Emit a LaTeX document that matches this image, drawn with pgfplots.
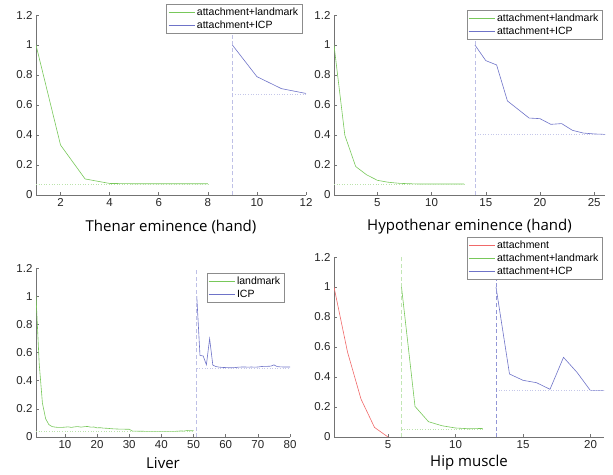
\documentclass[border=0pt]{standalone}
\usepackage{fontspec}
\setmainfont{Liberation Sans}
\newfontfamily\labelfont{Open Sans}
\usepackage{pgfplots}
\pgfplotsset{compat=1.18}

\definecolor{mgreen}{RGB}{120,200,90}
\definecolor{mblue}{RGB}{110,115,200}
\definecolor{mred}{RGB}{240,105,105}

\pgfplotsset{
  mat/.style={
    scale only axis,
    axis x line*=bottom, axis y line*=left,
    axis line style={black!55, line width=0.5pt},
    tick style={black!55, line width=0.5pt},
    tick align=inside, major tick length=3pt,
    ymin=0, ymax=1.2,
    ytick={0,0.2,0.4,0.6,0.8,1,1.2},
    yticklabels={0,0.2,0.4,0.6,0.8,1,1.2},
    tick label style={font=\fontsize{11.5}{12}\selectfont, text=black!85},
    /pgf/number format/assume math mode=true,
    xlabel style={font=\labelfont\fontsize{15}{16}\selectfont, text=black,
      at={(axis description cs:0.5,0)}, anchor=center},
    legend style={draw=black!45, fill=white, anchor=north east,
      font=\fontsize{10.5}{12}\selectfont, inner sep=1.5pt, row sep=0pt,
      cells={anchor=west}},
    legend image code/.code={\draw[line width=0.8pt,#1] (0pt,0pt) -- (26pt,0pt);},
    every axis plot/.append style={line width=0.6pt},
  },
  ref/.style={dotted, line width=0.4pt, forget plot},
  vert/.style={dash pattern=on 4pt off 2.5pt, line width=0.8pt, forget plot},
}

\begin{document}
\begin{tikzpicture}[x=1pt,y=1pt]
\path (0,0) rectangle (613,474);

% Thenar eminence
\begin{axis}[mat, at={(36pt,279pt)}, anchor=south west, width=270pt, height=180pt,
  xmin=1, xmax=12, xtick={2,4,...,12},
  xlabel={Thenar eminence (hand)}, xlabel style={yshift=-32pt},
  legend style={at={(0.985,1.061)}}]
\addplot[mgreen] coordinates {(1,1.0) (2,0.333) (3,0.107) (4,0.077) (5,0.075) (6,0.075) (7,0.075) (8,0.075)};
\addlegendentry{attachment+landmark}
\addplot[mblue] coordinates {(9,1.0) (10,0.789) (11,0.709) (12,0.677)};
\addlegendentry{attachment+ICP}
\addplot[ref, mgreen!50] coordinates {(1,0.075) (8,0.075)};
\addplot[ref, mblue!40] coordinates {(9,0.675) (12,0.675)};
\addplot[vert, mblue!45] coordinates {(9,0) (9,1.2)};
\end{axis}

% Hypothenar eminence
\begin{axis}[mat, at={(334pt,279pt)}, anchor=south west, width=271pt, height=180pt,
  xmin=1, xmax=26, xtick={5,10,...,25},
  xlabel={Hypothenar eminence (hand)}, xlabel style={yshift=-32pt},
  legend style={at={(0.989,1.028)}}]
\addplot[mgreen] coordinates {(1,1.0) (2,0.398) (3,0.19) (4,0.135) (5,0.098) (6,0.085)
  (7,0.078) (8,0.075) (9,0.073) (10,0.073) (11,0.073) (12,0.073) (13,0.073)};
\addlegendentry{attachment+landmark}
\addplot[mblue] coordinates {(14,1.0) (15,0.896) (16,0.867) (17,0.627) (18,0.57) (19,0.513)
  (20,0.509) (21,0.471) (22,0.476) (23,0.431) (24,0.413) (25,0.407) (26,0.404)};
\addlegendentry{attachment+ICP}
\addplot[ref, mgreen!50] coordinates {(1,0.073) (13,0.073)};
\addplot[ref, mblue!40] coordinates {(14,0.404) (26,0.404)};
\addplot[vert, mblue!45] coordinates {(14,0) (14,1.2)};
\end{axis}

% Liver
\begin{axis}[mat, at={(36pt,37pt)}, anchor=south west, width=254pt, height=169pt,
  xmin=1, xmax=80, xtick={10,20,...,80},
  xlabel={Liver}, xlabel style={yshift=-26pt},
  legend style={at={(0.976,0.970)}}]
\addplot[mgreen] coordinates {(1,1.0) (2,0.52) (3,0.24) (4,0.13) (5,0.088) (6,0.074) (7,0.07)
  (8,0.068) (9,0.068) (10,0.07) (11,0.072) (12,0.068) (13,0.072) (14,0.074) (15,0.07)
  (16,0.073) (17,0.075) (18,0.07) (19,0.071) (20,0.065) (21,0.066) (22,0.063) (23,0.062)
  (24,0.06) (25,0.058) (26,0.057) (27,0.056) (28,0.056) (29,0.055) (30,0.055) (31,0.042)
  (32,0.042) (33,0.041) (34,0.041) (35,0.04) (36,0.04) (37,0.04) (38,0.04) (39,0.04)
  (40,0.04) (41,0.04) (42,0.04) (43,0.04) (44,0.04) (45,0.041) (46,0.043) (47,0.042)
  (48,0.046) (49,0.044) (50,0.045)};
\addlegendentry{landmark}
\addplot[mblue] coordinates {(51,1.0) (52,0.58) (53,0.575) (54,0.513) (55,0.698) (56,0.51)
  (57,0.5) (58,0.496) (59,0.494) (60,0.493) (61,0.492) (62,0.492) (63,0.493) (64,0.496)
  (65,0.497) (66,0.497) (67,0.496) (68,0.497) (69,0.496) (70,0.497) (71,0.5) (72,0.502)
  (73,0.502) (74,0.503) (75,0.512) (76,0.5) (77,0.498) (78,0.497) (79,0.497) (80,0.497)};
\addlegendentry{ICP}
\addplot[ref, mgreen!50] coordinates {(1,0.04) (50,0.04)};
\addplot[ref, mblue!40] coordinates {(51,0.492) (80,0.492)};
\addplot[vert, mblue!45] coordinates {(51,0) (51,1.2)};
\end{axis}

% Hip muscle
\begin{axis}[mat, at={(334pt,37pt)}, anchor=south west, width=270pt, height=180pt,
  xmin=1, xmax=21, xtick={5,10,...,20},
  xlabel={Hip muscle}, xlabel style={yshift=-26pt},
  legend style={at={(0.993,1.111)}}]
\addplot[mred] coordinates {(1,1.0) (2,0.567) (3,0.253) (4,0.064) (5,0.0)};
\addlegendentry{attachment}
\addplot[mgreen] coordinates {(6,1.0) (7,0.204) (8,0.102) (9,0.075) (10,0.06) (11,0.055) (12,0.057)};
\addlegendentry{attachment+landmark}
\addplot[mblue] coordinates {(13,1.0) (14,0.42) (15,0.378) (16,0.362) (17,0.318) (18,0.531)
  (19,0.431) (20,0.309) (21,0.309)};
\addlegendentry{attachment+ICP}
\addplot[ref, mgreen!50] coordinates {(6,0.055) (12,0.055)};
\addplot[ref, mblue!40] coordinates {(13,0.309) (21,0.309)};
\addplot[vert, mgreen!45] coordinates {(6,0) (6,1.2)};
\addplot[vert, mblue!75] coordinates {(13,0) (13,1.2)};
\end{axis}
\end{tikzpicture}
\end{document}
